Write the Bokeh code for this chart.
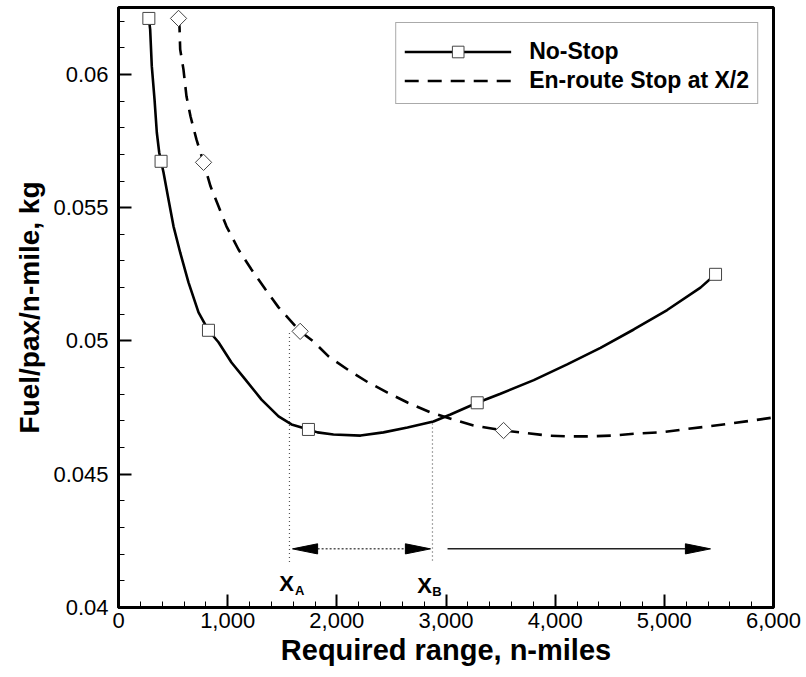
import numpy as np
from bokeh.plotting import figure
from bokeh.models import Range1d, FixedTicker, CustomJSTickFormatter, Legend, LegendItem
from bokeh.core.properties import value
from bokeh.embed import file_html
from bokeh.resources import INLINE

# ---------------- data ----------------
nostop_x = [278, 390, 824, 1740, 3286, 5469]
nostop_y = [0.06210, 0.05674, 0.05040, 0.04668, 0.04768, 0.05250]

enroute_x = [550, 779, 1664, 3527]
enroute_y = [0.06210, 0.05670, 0.05036, 0.04664]

nostop_curve_x = [278, 290, 305, 330, 351, 373, 390, 412, 458, 504, 565, 641, 733, 824,
                  916, 1035, 1161, 1310, 1466, 1585, 1740, 1823, 1969, 2217, 2427, 2647,
                  2885, 3041, 3286, 3499, 3804, 4110, 4415, 4720, 5026, 5331, 5469]
nostop_curve_y = [0.06210, 0.06169, 0.06031, 0.05906, 0.05782, 0.05707, 0.05674,
                  0.05633, 0.05531, 0.05430, 0.05332, 0.05220, 0.05107, 0.05040,
                  0.04995, 0.04919, 0.04856, 0.04780, 0.04717, 0.04687, 0.04668,
                  0.04657, 0.04649, 0.04645, 0.04657, 0.04675, 0.04698, 0.04724,
                  0.04768, 0.04802, 0.04853, 0.04912, 0.04974, 0.05043, 0.05116,
                  0.05200, 0.05250]

enroute_curve_x = [550, 559, 565, 595, 623, 660, 714, 779, 843, 916, 989, 1099, 1218,
                   1347, 1466, 1664, 1786, 1924, 2098, 2281, 2464, 2647, 2858, 3069,
                   3252, 3527, 3682, 3930, 4113, 4324, 4534, 4754, 4965, 5175, 5395,
                   5606, 5817, 6000]
enroute_curve_y = [0.06210, 0.06176, 0.06094, 0.06019, 0.05917, 0.05842, 0.05756,
                   0.05670, 0.05580, 0.05505, 0.05430, 0.05343, 0.05268, 0.05193,
                   0.05126, 0.05036, 0.04998, 0.04942, 0.04893, 0.04846, 0.04806,
                   0.04769, 0.04732, 0.04705, 0.04683, 0.04664, 0.04657, 0.04645,
                   0.04642, 0.04642, 0.04645, 0.04653, 0.04657, 0.04668, 0.04679,
                   0.04690, 0.04702, 0.04713]

x_ticks = [0, 1000, 2000, 3000, 4000, 5000, 6000]
x_labels = ["0", "1,000", "2,000", "3,000", "4,000", "5,000", "6,000"]
y_ticks = [0.04, 0.045, 0.05, 0.055, 0.06]
y_labels = ["0.04", "0.045", "0.05", "0.055", "0.06"]

# annotation values
marker_x = [1566, 2876]          # X_A, X_B
marker_top = [0.0503, 0.0469]
marker_bottom = [0.0417, 0.0417]
marker_names = ["X", "X"]
marker_subs = ["A", "B"]

arrow_y = 0.0422
arrow1_x = [1594, 2858]          # double-headed dotted arrow
arrow2_x = [3014, 5423]          # single solid arrow

FONT = "Liberation Sans"

p = figure(width=806, height=677, output_backend="svg", toolbar_location=None,
           x_range=Range1d(0, 6000), y_range=Range1d(0.04, 0.06251),
           min_border_left=118, min_border_right=33, min_border_top=7,
           min_border_bottom=70)
p.background_fill_color = "white"
p.border_fill_color = "white"
p.outline_line_color = "black"
p.outline_line_width = 3
p.xgrid.visible = False
p.ygrid.visible = False

fmt_code = """
    let best = 0;
    for (let i = 0; i < t.length; i++) { if (Math.abs(t[i]-tick) < Math.abs(t[best]-tick)) best = i; }
    return l[best];"""
p.xaxis.ticker = FixedTicker(ticks=x_ticks, minor_ticks=list(np.arange(0, 6001, 200)))
p.xaxis.formatter = CustomJSTickFormatter(args=dict(t=x_ticks, l=x_labels), code=fmt_code)
p.yaxis.ticker = FixedTicker(ticks=y_ticks, minor_ticks=[0.04 + 0.001 * i for i in range(23)])
p.yaxis.formatter = CustomJSTickFormatter(args=dict(t=y_ticks, l=y_labels), code=fmt_code)

for ax in (p.xaxis[0], p.yaxis[0]):
    ax.axis_line_width = 3
    ax.axis_line_color = "black"
    ax.major_tick_in = 13
    ax.major_tick_out = 0
    ax.minor_tick_in = 6
    ax.minor_tick_out = 0
    ax.major_tick_line_width = 2
    ax.minor_tick_line_width = 1
    ax.major_label_text_font = FONT
    ax.major_label_text_color = "black"
    ax.major_label_text_font_size = "22px"
    ax.axis_label_text_font = FONT
    ax.axis_label_text_font_style = "bold"
    ax.axis_label_text_color = "black"

p.xaxis.axis_label_text_font_size = "29px"
p.yaxis.axis_label_text_font_size = "28px"
p.xaxis.axis_label = "Required range, n-miles"
p.yaxis.axis_label = "Fuel/pax/n-mile, kg"
p.xaxis.major_label_standoff = 5
p.xaxis.axis_label_standoff = 3
p.yaxis.major_label_standoff = 10
p.yaxis.axis_label_standoff = 5

# curves
r1 = p.line(nostop_curve_x, nostop_curve_y, line_color="black", line_width=2.6)
r2 = p.line(enroute_curve_x, enroute_curve_y, line_color="black", line_width=2.6,
            line_dash="14 9")

# vertical dotted markers
p.segment(x0=marker_x, y0=marker_top, x1=marker_x, y1=marker_bottom,
          line_color="#555555", line_width=1.2, line_dash="1 3")

# arrows
head_len = 230
head_half = 0.00019
p.segment(x0=[arrow1_x[0] + head_len], y0=[arrow_y], x1=[arrow1_x[1] - head_len], y1=[arrow_y],
          line_color="#555555", line_width=1.5, line_dash="2 2")
p.segment(x0=[arrow2_x[0]], y0=[arrow_y], x1=[arrow2_x[1] - head_len], y1=[arrow_y],
          line_color="#222222", line_width=1.5)
tips = [arrow1_x[0], arrow1_x[1], arrow2_x[1]]
dirs = [-1, 1, 1]
p.patches(xs=[[t, t - d * head_len, t - d * head_len] for t, d in zip(tips, dirs)],
          ys=[[arrow_y, arrow_y + head_half, arrow_y - head_half] for _ in tips],
          fill_color="black", line_color="black", line_width=1)

# markers
s1 = p.scatter(nostop_x, nostop_y, marker="square", size=12, fill_color="white",
               line_color="#444444", line_width=1)
s2 = p.scatter(enroute_x, enroute_y, marker="square", angle=np.pi / 4, size=11.5,
               fill_color="white", line_color="#444444", line_width=1)
# legend-only diamond glyph (no data)
s2_leg = p.scatter(x=[], y=[], marker="diamond", size=16, fill_color="white",
                   line_color="#444444", line_width=1)

# X_A / X_B labels
p.text(x=[marker_x[0] - 26, marker_x[1] - 73], y=[0.0409, 0.04082], text=marker_names,
       text_font=value(FONT), text_font_style="bold", text_font_size="22px",
       text_align="center", text_baseline="alphabetic", text_color="black")
p.text(x=[marker_x[0] + 94, marker_x[1] + 40], y=[0.04063, 0.0406], text=marker_subs,
       text_font=value(FONT), text_font_style="bold", text_font_size="13px",
       text_align="center", text_baseline="alphabetic", text_color="black")

legend = Legend(items=[LegendItem(label="No-Stop", renderers=[r1, s1]),
                       LegendItem(label="En-route Stop at X/2", renderers=[r2, s2_leg])],
                location="top_right")
legend.title = " "
legend.title_text_font_size = "5px"
legend.title_standoff = 0
legend.margin = 15
legend.padding = 8
legend.spacing = 0
legend.glyph_width = 107
legend.glyph_height = 29
legend.label_standoff = 18
legend.label_text_font = FONT
legend.label_text_font_style = "bold"
legend.label_text_font_size = "23px"
legend.label_text_color = "black"
legend.border_line_color = "#555555"
legend.border_line_width = 1
legend.background_fill_alpha = 1
p.add_layout(legend)

open("out.html", "w").write(file_html(p, INLINE))
